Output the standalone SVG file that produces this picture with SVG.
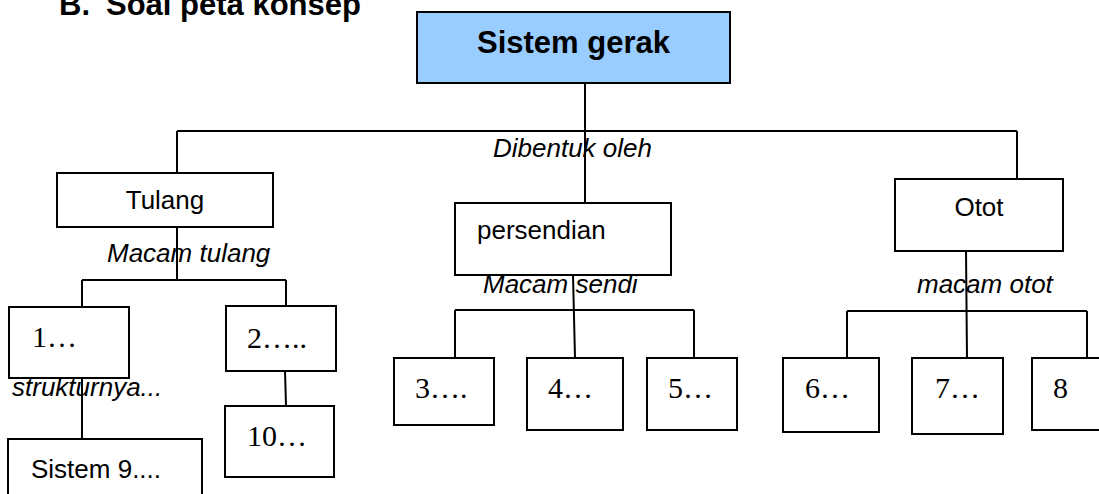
<svg xmlns="http://www.w3.org/2000/svg" width="1099" height="494" viewBox="0 0 1099 494">
<style>
.box{fill:#fff;stroke:#000;stroke-width:2}
.root{fill:#99ccff;stroke:#000;stroke-width:2}
.ln{fill:none;stroke:#000;stroke-width:2}
.t{font-family:"Liberation Sans",Arial,sans-serif;font-size:26px;fill:#000}
.i{font-family:"Liberation Sans",Arial,sans-serif;font-size:26px;font-style:italic;fill:#000}
.b{font-family:"Liberation Sans",Arial,sans-serif;font-size:31px;font-weight:bold;fill:#000}
.n{font-family:"Liberation Serif","Times New Roman",serif;font-size:30px;fill:#000}
</style>
<rect width="1099" height="494" fill="#fff"/>
<g id="title">
<text class="b" x="59" y="15">B.</text>
<text class="b" x="106" y="15">Soal peta konsep</text>
</g>
<g id="connectors">
<path class="ln" d="M585 83V203M177 131H1017M177 131V180M1017 131V179"/>
<path class="ln" d="M177 227V280M82 280H286M82 280V307M286 280V306"/>
<path class="ln" d="M82 378V439M285 371L286 406"/>
<path class="ln" d="M573 275L575 358M455 310H694M455 310V358M694 310V358"/>
<path class="ln" d="M966 250L967 358M847 311H1087M847 311V358M1087 311V358"/>
</g>
<g id="sistem-gerak">
<rect class="root" x="417" y="12" width="313" height="71"/>
<text class="b" x="573.5" y="53" text-anchor="middle">Sistem gerak</text>
</g>
<g id="tulang">
<rect class="box" x="57" y="173" width="216" height="54"/>
<text class="t" x="165" y="209" text-anchor="middle">Tulang</text>
</g>
<g id="persendian">
<rect class="box" x="455" y="203" width="216" height="72"/>
<text class="t" x="477" y="239">persendian</text>
</g>
<g id="otot">
<rect class="box" x="895" y="179" width="168" height="72"/>
<text class="t" x="979" y="216" text-anchor="middle">Otot</text>
</g>
<g id="labels">
<text class="i" x="493" y="157">Dibentuk oleh</text>
<text class="i" x="107" y="262">Macam tulang</text>
<text class="i" x="483" y="293">Macam sendi</text>
<text class="i" x="917" y="293">macam otot</text>
<text class="i" x="12" y="396">strukturnya...</text>
</g>
<g id="n1">
<rect class="box" x="9" y="307" width="120" height="71"/>
<text class="n" x="32" y="347">1…</text>
</g>
<g id="n2">
<rect class="box" x="226" y="306" width="110" height="65"/>
<text class="n" x="247" y="348">2…..</text>
</g>
<g id="n10">
<rect class="box" x="225" y="406" width="109" height="71"/>
<text class="n" x="247" y="446">10…</text>
</g>
<g id="n9">
<rect class="box" x="8" y="439" width="194" height="70"/>
<text class="t" x="31" y="478">Sistem 9....</text>
</g>
<g id="n3">
<rect class="box" x="394" y="358" width="100" height="67"/>
<text class="n" x="415" y="398">3….</text>
</g>
<g id="n4">
<rect class="box" x="527" y="358" width="96" height="72"/>
<text class="n" x="548" y="398">4…</text>
</g>
<g id="n5">
<rect class="box" x="647" y="358" width="90" height="72"/>
<text class="n" x="668" y="398">5…</text>
</g>
<g id="n6">
<rect class="box" x="783" y="358" width="96" height="74"/>
<text class="n" x="805" y="398">6…</text>
</g>
<g id="n7">
<rect class="box" x="912" y="358" width="91" height="76"/>
<text class="n" x="935" y="398">7…</text>
</g>
<g id="n8">
<rect class="box" x="1032" y="358" width="90" height="72"/>
<text class="n" x="1053" y="398">8</text>
</g>
</svg>
